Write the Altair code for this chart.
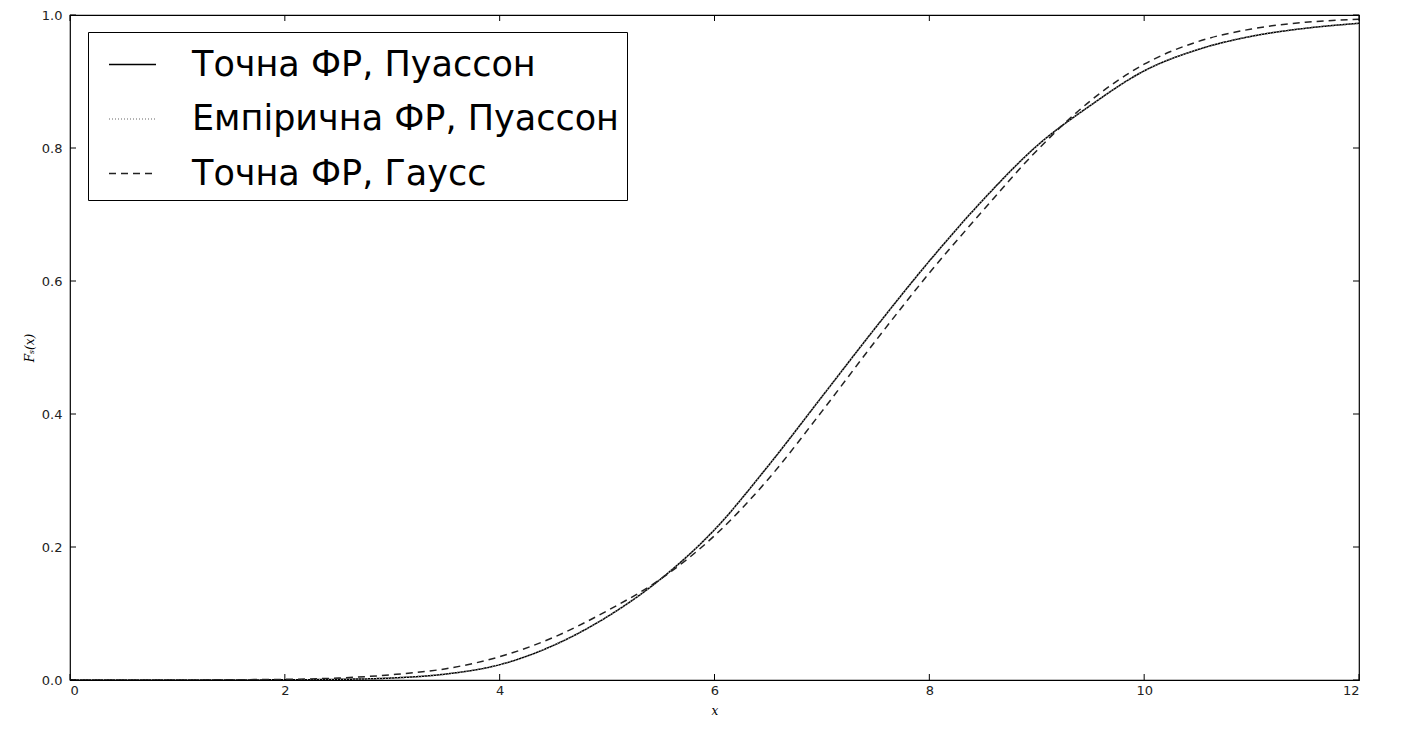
import altair as alt
import pandas as pd

# values
x_vals = [0, 1, 2, 2.5, 3, 3.5, 4, 4.5, 5, 5.5, 6, 6.5, 7, 7.5, 8, 8.5, 9, 9.5, 10, 10.5, 11, 11.5, 12]
poisson_exact = [0, 0, 0.0003, 0.001, 0.003, 0.009, 0.023, 0.052, 0.095, 0.152, 0.226, 0.322, 0.426,
                 0.530, 0.630, 0.722, 0.803, 0.864, 0.916, 0.948, 0.968, 0.980, 0.9875]
poisson_empirical = [0, 0, 0.0003, 0.001, 0.003, 0.009, 0.023, 0.052, 0.095, 0.152, 0.226, 0.322, 0.426,
                     0.530, 0.630, 0.722, 0.803, 0.864, 0.916, 0.948, 0.968, 0.980, 0.9875]
gauss_exact = [0, 0.0001, 0.001, 0.003, 0.008, 0.017, 0.035, 0.064, 0.104, 0.152, 0.217, 0.302, 0.404,
               0.510, 0.612, 0.706, 0.796, 0.871, 0.926, 0.960, 0.979, 0.989, 0.9935]

series_names = ["Точна ФР, Пуассон", "Емпірична ФР, Пуассон", "Точна ФР, Гаусс"]
x_ticks = [0, 2, 4, 6, 8, 10, 12]
y_ticks = [0, 0.2, 0.4, 0.6, 0.8, 1.0]

rows = []
for name, ys in zip(series_names, [poisson_exact, poisson_empirical, gauss_exact]):
    for i, (xv, yv) in enumerate(zip(x_vals, ys)):
        rows.append({"x": xv, "y": yv, "series": name, "order": i})
df = pd.DataFrame(rows)

W, H = 1289, 665

xs = alt.Scale(domain=[0, 12], nice=False)
ys_ = alt.Scale(domain=[0, 1], nice=False)

legend_cfg = dict(title=None, orient="none", legendX=18, legendY=17,
                  symbolType="stroke", symbolSize=2209, symbolStrokeWidth=1.5,
                  symbolOffset=12, labelOffset=35, labelFontSize=35,
                  labelFont="DejaVu Sans", labelColor="#000", labelLimit=1000,
                  rowPadding=11.5, padding=8, fillColor="white",
                  strokeColor="#000", cornerRadius=0)

lines = alt.Chart(df).mark_line(strokeWidth=1.5, interpolate="monotone", clip=True).encode(
    x=alt.X("x:Q", scale=xs,
            axis=alt.Axis(values=x_ticks, format="d", ticks=False, grid=False, domain=False,
                          labelPadding=4, title="x", titleFont="DejaVu Serif",
                          titleFontStyle="italic", titleFontWeight="normal", titleFontSize=12,
                          titlePadding=8)),
    y=alt.Y("y:Q", scale=ys_,
            axis=alt.Axis(values=y_ticks, format=".1f", ticks=False, grid=False, domain=False,
                          labelPadding=8, title="Fₛ(x)", titleFont="DejaVu Serif",
                          titleFontStyle="italic", titleFontWeight="normal", titleFontSize=12,
                          titlePadding=5)),
    color=alt.Color("series:N",
                    scale=alt.Scale(domain=series_names, range=["#000000", "#999999", "#222222"]),
                    legend=alt.Legend(**legend_cfg)),
    strokeDash=alt.StrokeDash("series:N",
                              scale=alt.Scale(domain=series_names, range=[[1, 0], [1, 2], [7, 5]]),
                              legend=alt.Legend(**legend_cfg)),
    order="order:Q",
)

xt = pd.DataFrame({"v": x_ticks})
yt = pd.DataFrame({"v": y_ticks})

tick_bottom = alt.Chart(xt).mark_rule(color="#000", strokeWidth=1).encode(
    x=alt.X("v:Q", scale=xs), y=alt.value(H), y2=alt.value(H - 6))
tick_top = alt.Chart(xt).mark_rule(color="#000", strokeWidth=1).encode(
    x=alt.X("v:Q", scale=xs), y=alt.value(0), y2=alt.value(6))
tick_left = alt.Chart(yt).mark_rule(color="#000", strokeWidth=1).encode(
    y=alt.Y("v:Q", scale=ys_), x=alt.value(0), x2=alt.value(6))
tick_right = alt.Chart(yt).mark_rule(color="#000", strokeWidth=1).encode(
    y=alt.Y("v:Q", scale=ys_), x=alt.value(W), x2=alt.value(W - 6))

chart = alt.layer(lines, tick_bottom, tick_top, tick_left, tick_right).properties(
    width=W, height=H,
    padding={"left": 70, "top": 15, "right": 44, "bottom": 50},
    autosize=alt.AutoSizeParams(type="none"),
    background="white",
).configure_view(
    stroke="#000", strokeWidth=1.2
).configure_axis(
    labelFont="DejaVu Sans", labelFontSize=13, labelColor="#222"
)

chart.save("out.html", embed_options={"renderer": "svg", "actions": False})
